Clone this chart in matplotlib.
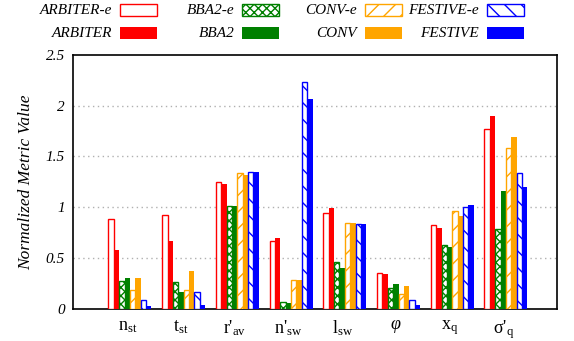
import matplotlib.pyplot as plt
import numpy as np
from matplotlib.patches import Rectangle

plt.rcParams['font.family'] = ['Liberation Serif', 'DejaVu Serif']
plt.rcParams['mathtext.fontset'] = 'custom'
plt.rcParams['mathtext.rm'] = 'Liberation Serif'
plt.rcParams['mathtext.it'] = 'Liberation Serif:italic'
plt.rcParams['hatch.linewidth'] = 1.0

metrics = [r'n$_{\mathrm{st}}$', r't$_{\mathrm{st}}$', r"r'$_{\mathrm{av}}$",
           r"n'$_{\mathrm{sw}}$", r'l$_{\mathrm{sw}}$', r'$\varphi$',
           r'x$_{\mathrm{q}}$', r"σ'$_{\mathrm{q}}$"]

arbiter_e = [0.88, 0.92, 1.25, 0.67, 0.94, 0.355, 0.82, 1.77]
arbiter = [0.58, 0.665, 1.23, 0.70, 0.995, 0.345, 0.79, 1.90]
bba2_e = [0.27, 0.26, 1.015, 0.06, 0.46, 0.20, 0.63, 0.78]
bba2 = [0.30, 0.16, 1.015, 0.05, 0.40, 0.24, 0.61, 1.16]
conv_e = [0.18, 0.18, 1.335, 0.28, 0.84, 0.14, 0.96, 1.585]
conv = [0.30, 0.37, 1.32, 0.28, 0.84, 0.225, 0.91, 1.69]
festive_e = [0.08, 0.16, 1.35, 2.235, 0.83, 0.08, 1.005, 1.335]
festive = [0.02, 0.03, 1.35, 2.07, 0.83, 0.03, 1.025, 1.20]

names = ['ARBITER-e', 'ARBITER', 'BBA2-e', 'BBA2', 'CONV-e', 'CONV', 'FESTIVE-e', 'FESTIVE']
series = [arbiter_e, arbiter, bba2_e, bba2, conv_e, conv, festive_e, festive]
colors = ['#ff0000', '#ff0000', '#008000', '#008000',
          '#ffa500', '#ffa500', '#0000ff', '#0000ff']
hatches = ['', None, 'xxxx', None, '//', None, '\\\\', None]

W, H = 574, 341
fig = plt.figure(figsize=(W / 100, H / 100), dpi=100)
ax = fig.add_axes([73 / W, 1 - 308.5 / H, (557 - 73) / W, (308.5 - 55) / H])

x = np.arange(len(metrics))
bw = 0.1

def style(i):
    if hatches[i] is None:
        return dict(facecolor=colors[i], edgecolor='none', linewidth=0)
    return dict(facecolor='white', edgecolor=colors[i], hatch=hatches[i], linewidth=1.0)

for i, vals in enumerate(series):
    ax.bar(x - 0.35 + i * bw, vals, bw, zorder=3, **style(i))

ax.set_xlim(-1.06, 7.95)
ax.set_ylim(0, 2.5)
ax.set_yticks([0, 0.5, 1, 1.5, 2, 2.5])
ax.set_yticklabels(['0', '0.5', '1', '1.5', '2', '2.5'], fontstyle='italic', fontsize=11)
ax.set_xticks(x - 0.05)
ax.set_xticklabels(metrics, fontsize=13)
ax.tick_params(axis='y', length=0, pad=6)
ax.tick_params(axis='x', length=0, pad=7)
ax.set_ylabel('Normalized Metric Value', fontstyle='italic', fontsize=12.5, labelpad=8)

for yv in [0.5, 1, 1.5, 2]:
    ax.axhline(yv, color='#b0b0b0', linewidth=1, linestyle=(0, (1, 2.5)), zorder=1)

for s in ax.spines.values():
    s.set_linewidth(1.2)

# legend: two rows, four fixed-width columns, label to the left of the swatch
for i, name in enumerate(names):
    col, row = i // 2, i % 2
    right = 157 + 122.3 * col
    top = 4 + 23 * row
    fig.add_artist(Rectangle(((right - 37) / W, 1 - (top + 12) / H), 37 / W, 12 / H,
                             transform=fig.transFigure, **style(i)))
    fig.text((right - 45) / W, 1 - (top + 6.5) / H, name, ha='right', va='center',
             fontstyle='italic', fontsize=11)

fig.savefig('out.png', dpi=100)
